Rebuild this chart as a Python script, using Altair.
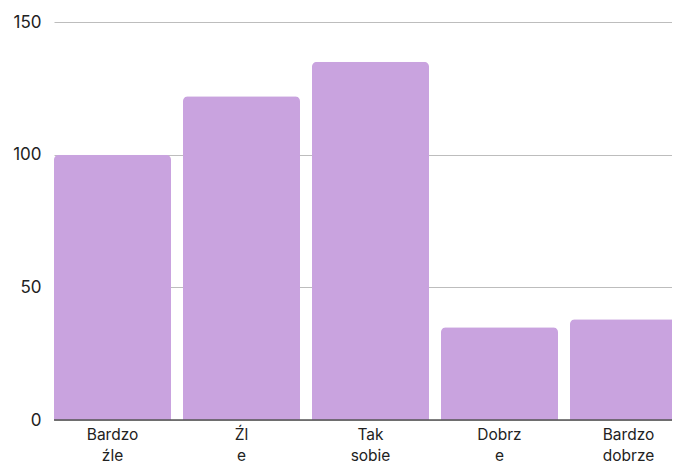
import altair as alt
import pandas as pd

categories = ["Bardzo\nźle", "Źl\ne", "Tak\nsobie", "Dobrz\ne", "Bardzo\ndobrze"]
values = [100, 122, 135, 35, 38]
y_ticks = [0, 50, 100, 150]

df = pd.DataFrame({"cat": categories, "val": values})

FONT = "Inter"
W, H = 633, 398

bars = alt.Chart(df).mark_bar(
    color="#C9A3DF",
    cornerRadiusTopLeft=5,
    cornerRadiusTopRight=5,
).encode(
    x=alt.X(
        "cat:N",
        sort=None,
        title=None,
        scale=alt.Scale(paddingInner=0.093, paddingOuter=0),
        axis=alt.Axis(
            labelAngle=0,
            ticks=False,
            domain=False,
            grid=False,
            labelExpr="split(datum.label, '\\n')",
            labelFont=FONT,
            labelFontSize=15.5,
            labelColor="#222222",
            labelPadding=7,
            labelLineHeight=21,
            labelBaseline="top",
        ),
    ),
    y=alt.Y(
        "val:Q",
        title=None,
        scale=alt.Scale(domain=[0, 150], nice=False),
        axis=alt.Axis(
            values=y_ticks,
            ticks=False,
            domain=False,
            grid=True,
            gridColor="#BDBDBD",
            gridWidth=1.2,
            labelFont=FONT,
            labelFontSize=17,
            labelColor="#222222",
            labelPadding=13,
        ),
    ),
)

base = alt.Chart(pd.DataFrame({"v": [0]})).mark_rule(color="#555555", strokeWidth=1.5).encode(
    y=alt.Y("v:Q", scale=alt.Scale(domain=[0, 150], nice=False))
)

chart = alt.layer(bars, base).properties(
    width=W,
    height=H,
    autosize=alt.AutoSizeParams(type="none"),
    padding={"left": 46, "top": 14, "right": -15, "bottom": 46},
).configure_view(stroke=None)

chart.save("out.html", embed_options={"renderer": "svg", "actions": False})
